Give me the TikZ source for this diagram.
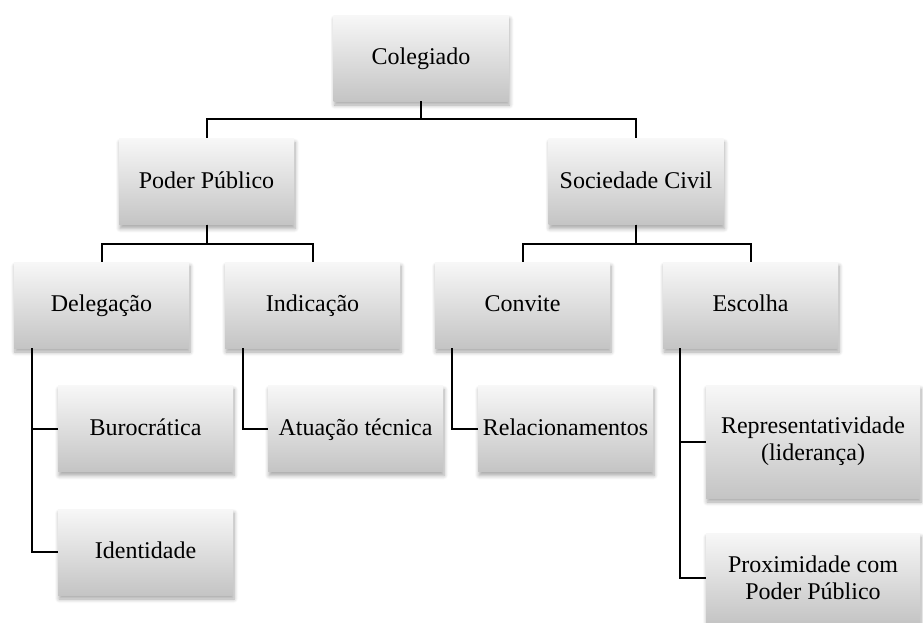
\documentclass[tikz,border=0pt]{standalone}
\usepackage{fontspec}
\setmainfont{Liberation Serif}
\usetikzlibrary{shadows.blur}

\tikzset{
  orgbox/.style={rectangle, draw=none, inner sep=0pt, align=center,
    minimum width=175pt, minimum height=86pt,
    top color=black!3, bottom color=black!23,
    blur shadow={shadow xshift=1pt, shadow yshift=-4pt,
      shadow blur radius=4pt, shadow blur steps=6, shadow opacity=35},
    font=\fontsize{24}{27}\selectfont},
  oneline/.style={text height=17.5pt, text depth=4.5pt},
  link/.style={draw=black, line width=2pt}
}

\begin{document}
\begin{tikzpicture}[x=1pt, y=-1pt]
  \useasboundingbox (0,0) rectangle (923,622);
  \clip (0,0) rectangle (923,622);

  % root and first level
  \node[orgbox, oneline] (col) at (421,58) {Colegiado};
  \node[orgbox, oneline] (pp)  at (206.5,181.5) {Poder Público};
  \node[orgbox, oneline] (sc)  at (636,181.5) {Sociedade Civil};

  % second level
  \node[orgbox, oneline] (del) at (101.5,305) {Delegação};
  \node[orgbox, oneline] (ind) at (312.5,305) {Indicação};
  \node[orgbox, oneline] (con) at (522.5,305) {Convite};
  \node[orgbox, oneline] (esc) at (750.5,305) {Escolha};

  % leaves
  \node[orgbox, oneline] (bur) at (145.5,428.5) {Burocrática};
  \node[orgbox, oneline] (ide) at (145.5,552) {Identidade};
  \node[orgbox, oneline] (atu) at (355.5,428.5) {Atuação técnica};
  \node[orgbox, oneline] (rel) at (565.5,428.5) {Relacionamentos};
  \node[orgbox, minimum width=214pt, minimum height=113pt] (rep) at (813,441.5)
    {Representatividade\\(liderança)};
  \node[orgbox, minimum width=214pt, minimum height=90pt] (pro) at (813,578)
    {Proximidade com\\Poder Público};

  % tree connectors
  \draw[link] (col.south) -- ++(0,18) -| (pp.north);
  \draw[link] (col.south) -- ++(0,18) -| (sc.north);
  \draw[link] (pp.south) -- ++(0,19) -| (del.north);
  \draw[link] (pp.south) -- ++(0,19) -| (ind.north);
  \draw[link] (sc.south) -- ++(0,19) -| (con.north);
  \draw[link] (sc.south) -- ++(0,19) -| (esc.north);

  % side connectors to leaves
  \coordinate (delx) at ([xshift=18pt]del.south west);
  \coordinate (indx) at ([xshift=18pt]ind.south west);
  \coordinate (conx) at ([xshift=17pt]con.south west);
  \coordinate (escx) at ([xshift=17pt]esc.south west);
  \draw[link] (delx) |- (bur.west);
  \draw[link] (delx) |- (ide.west);
  \draw[link] (indx) |- (atu.west);
  \draw[link] (conx) |- (rel.west);
  \draw[link] (escx) |- (rep.west);
  \draw[link] (escx) |- (pro.west);
\end{tikzpicture}
\end{document}
